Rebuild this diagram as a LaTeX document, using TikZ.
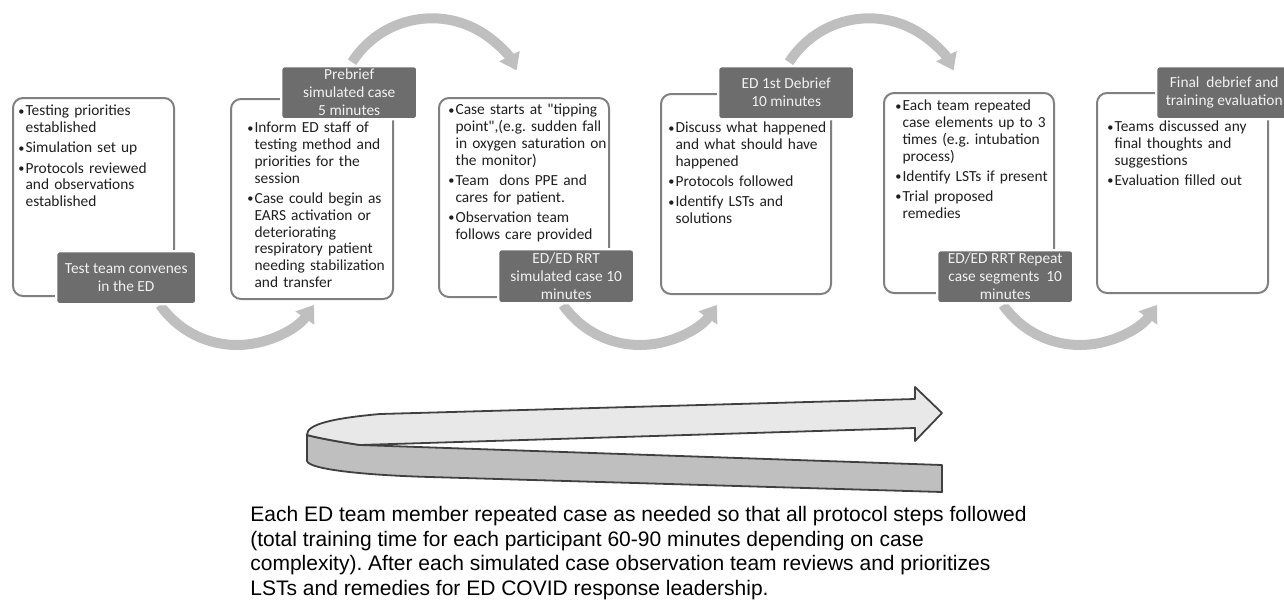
\documentclass[tikz,border=0pt]{standalone}
\usepackage{fontspec}
\setmainfont{Carlito}
\newfontfamily\arialfont{Liberation Sans}
\usetikzlibrary{arrows.meta,positioning}
\definecolor{cardline}{HTML}{808080}
\definecolor{tagfill}{HTML}{6D6D6D}
\definecolor{tagtext}{HTML}{F2F2F2}
\definecolor{flowgray}{HTML}{BFBFBF}
\definecolor{ribbonlight}{HTML}{E8E8E8}
\definecolor{ribbondark}{HTML}{BFBFBF}
\definecolor{ribbonline}{HTML}{404040}
\newcommand\itm[1]{\hangindent=3.6pt\hangafter=1\noindent
  \makebox[3.6pt][l]{\strut\raisebox{0.4pt}{\scalebox{0.8}{\textbullet}}}#1\par}
\tikzset{
    card/.style={
           rectangle, rounded corners=5pt,
           draw=cardline, line width=1pt,
           fill=white, inner sep=0pt,
           anchor=north west
           },
    tag/.style={
           rectangle, rounded corners=1.5pt,
           fill=tagfill, draw=white, line width=1.2pt,
           minimum width=68pt, minimum height=26.5pt,
           inner sep=0pt, align=center, text=tagtext,
           anchor=north west,
           font=\fontsize{7.7}{9}\selectfont
           },
    list/.style={
           anchor=north west, inner sep=0pt,
           text width=100pt, align=left, text=black!88,
           font=\frenchspacing\fontsize{7.7}{8.4}\selectfont\setlength\parskip{1.7pt}
           },
    note/.style={
           anchor=north west, inner sep=0pt, align=left,
           font=\arialfont\frenchspacing\fontsize{10.5}{12.3}\selectfont
           },
    flow/.style={
           draw=flowgray, line width=5pt,
           -{Triangle[width=11pt,length=8pt]}
           }
}
\begin{document}
\begin{tikzpicture}[x=0.5pt, y=-0.5pt]
   \useasboundingbox (0,0) rectangle (1284,600);
   % ribbon
   \filldraw[fill=ribbondark, draw=ribbonline, line width=0.9pt, line join=round]
     (307,435) -- (307,461) .. controls (309,469) and (360,475) .. (430,477)
     -- (942,492) -- (942,465) -- (360,445)
     .. controls (340,442) and (318,438) .. (307,435) -- cycle;
   \filldraw[fill=ribbonlight, draw=ribbonline, line width=0.9pt, line join=round]
     (307,435) .. controls (306,424) and (335,418) .. (380,414)
     -- (915,399) -- (915,387) -- (942,413) -- (915,441) -- (915,428) -- (360,445)
     .. controls (340,442) and (318,438) .. (307,435) -- cycle;
   % arcs
   \coordinate (u1) at (432,113);
   \coordinate (u2) at (869,113);
   \coordinate (d1) at (237,251);
   \coordinate (d2) at (640,251);
   \coordinate (d3) at (1080,251);
   \draw[flow] (d1) ++(215:47pt) arc[start angle=215, end angle=325, radius=47pt];
   \draw[flow] (d2) ++(215:47pt) arc[start angle=215, end angle=325, radius=47pt];
   \draw[flow] (d3) ++(215:47pt) arc[start angle=215, end angle=325, radius=47pt];
   \draw[flow] (u1) ++(147.6:47.35pt) arc[start angle=147.6, end angle=26.7, radius=47.35pt];
   \draw[flow] (u2) ++(147.6:47.35pt) arc[start angle=147.6, end angle=26.7, radius=47.35pt];
   % cards
   \node[card, minimum width=80.5pt, minimum height=99pt] (b1) at (12,97) {};
   \node[card, minimum width=81pt, minimum height=100pt] (b2) at (230,98) {};
   \node[card, minimum width=85pt, minimum height=99.5pt] (b3) at (438,97) {};
   \node[card, minimum width=85pt, minimum height=100pt] (b4) at (660,93) {};
   \node[card, minimum width=85pt, minimum height=100pt] (b5) at (883,92) {};
   \node[card, minimum width=85.5pt, minimum height=100pt] (b6) at (1096,92) {};
   % tags
   \node[tag, minimum width=70pt] (t1) at (55,250) {Test team convenes\\in the ED};
   \node[tag] (t2) at (280,65) {Prebrief\\simulated case\\5 minutes};
   \node[tag, minimum height=27pt] (t3) at (497,248) {ED/ED RRT\\simulated case 10\\minutes};
   \node[tag] (t4) at (717,65) {ED 1st Debrief\\10 minutes};
   \node[tag] (t5) at (936,249) {ED/ED RRT Repeat\\case segments~~10\\minutes};
   \node[tag] (t6) at (1155,65) {Final~~debrief and\\training evaluation};
   % lists
   \node[list] (l1) at (18,103.7) {\itm{Testing priorities\newline established}%
     \itm{Simulation set up}%
     \itm{Protocols reviewed\newline and observations\newline established}};
   \node[list] (l2) at (247,120.7) {\itm{Inform ED staff of\newline testing method and\newline priorities for the\newline session}%
     \itm{Case could begin as\newline EARS activation or\newline deteriorating\newline respiratory patient\newline needing stabilization\newline and transfer}};
   \node[list] (l3) at (448,102.7) {\itm{Case starts at \textquotedbl tipping\newline point\textquotedbl,(e.g. sudden fall\newline in oxygen saturation on\newline the monitor)}%
     \itm{Team~~dons PPE and\newline cares for patient.}%
     \itm{Observation team\newline follows care provided}};
   \node[list] (l4) at (668,120.7) {\itm{Discuss what happened\newline and what should have\newline happened}%
     \itm{Protocols followed}%
     \itm{Identify LSTs and\newline solutions}};
   \node[list] (l5) at (895,98.7) {\itm{Each team repeated\newline case elements up to 3\newline times (e.g. intubation\newline process)}%
     \itm{Identify LSTs if present}%
     \itm{Trial proposed\newline remedies}};
   \node[list] (l6) at (1107,119.7) {\itm{Teams discussed any\newline final thoughts and\newline suggestions}%
     \itm{Evaluation filled out}};
   % note
   \node[note] (n1) at (250,506) {Each ED team member repeated case as needed so that all protocol steps followed\\
     (total training time for each participant 60-90 minutes depending on case\\
     complexity). After each simulated case observation team reviews and prioritizes\\
     LSTs and remedies for ED COVID response leadership.};
\end{tikzpicture}
\end{document}
